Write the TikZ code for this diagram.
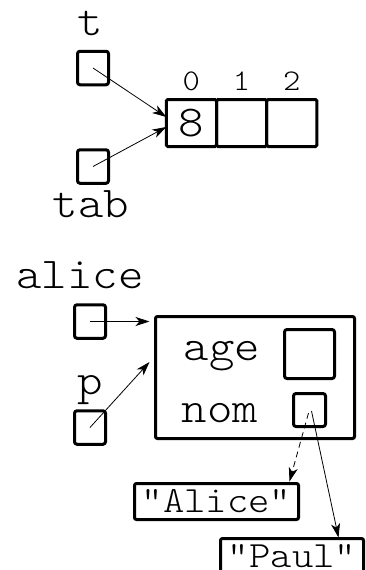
\documentclass[tikz,border=0pt]{standalone}
\usepackage{fontspec}
\usetikzlibrary{arrows.meta}
\newfontfamily\codefont[FakeStretch=1.1]{lmmonolt10-regular.otf}
\tikzset{
  box/.style={draw, line width=3pt, rounded corners=2.5pt, inner sep=0pt, outer sep=0pt},
  ptrbox/.style={box, minimum width=31pt, minimum height=33.5pt},
  cell/.style={box, rounded corners=1.5pt, minimum width=50.2pt, minimum height=47pt,
    font=\codefont\fontsize{44}{44}\selectfont},
  strbox/.style={box, rounded corners=2pt, minimum height=36pt,
    font=\codefont\fontsize{37}{37}\selectfont},
  lbl/.style={anchor=base, inner sep=0pt, font=\codefont\fontsize{44}{44}\selectfont},
  idx/.style={anchor=base, inner sep=0pt, font=\codefont\fontsize{30}{30}\selectfont},
  ref/.style={-{Stealth[length=14pt,width=9pt,inset=4pt]}, line width=0.8pt},
}
\begin{document}
\begin{tikzpicture}[x=1pt,y=-1pt]
\clip (0,0) rectangle (366,570);
% array t / tab
\node[lbl] (tlbl) at (90,35) {t};
\node[ptrbox] (tvar) at (93,68) {};
\node[ptrbox] (tabvar) at (93,166.5) {};
\node[lbl] (tablbl) at (91,217) {tab};
\node[cell] (c0) at (191.4,123) {8};
\node[cell] (c1) at (241.6,123) {};
\node[cell] (c2) at (291.8,123) {};
\node[idx] (i0) at ([yshift=9pt]c0.north) {0};
\node[idx] (i1) at ([yshift=9pt]c1.north) {1};
\node[idx] (i2) at ([yshift=9pt]c2.north) {2};
\draw[ref] (tvar.center) -- ([yshift=6pt]c0.west);
\draw[ref] (tabvar.center) -- ([yshift=-4pt]c0.west);
% object alice / p
\node[lbl] (alicelbl) at (80,288) {alice};
\node[ptrbox] (alicevar) at (90,321.5) {};
\node[lbl] (plbl) at (90,394) {p};
\node[ptrbox] (pvar) at (90,427.5) {};
\node[box, rounded corners=2pt, minimum width=199pt, minimum height=122pt] (obj) at (255,377.5) {};
\node[lbl] (agelbl) at (222,360) {age};
\node[lbl] (nomlbl) at (220,422) {nom};
\node[box, minimum width=50pt, minimum height=49pt] (age) at (309.5,354) {};
\node[ptrbox, minimum width=32pt, minimum height=33pt] (nom) at (309.5,410) {};
\draw[ref] (alicevar.center) -- ([shift={(-6pt,-5pt)}]obj.north west);
\draw[ref] (pvar.center) -- ([shift={(-6pt,15.5pt)}]obj.west);
% strings
\node[strbox, minimum width=164pt] (salice) at (216.5,501.5) {"Alice"};
\node[strbox, minimum width=143pt] (spaul) at (292,556.5) {"Paul"};
\draw[ref, dash pattern=on 6pt off 4pt] ([shift={(-1pt,-3pt)}]nom.center) -- ([shift={(-9pt,2pt)}]salice.north east);
\draw[ref] ([shift={(2pt,-1pt)}]nom.center) -- ([shift={(-25pt,1pt)}]spaul.north east);
\end{tikzpicture}
\end{document}
